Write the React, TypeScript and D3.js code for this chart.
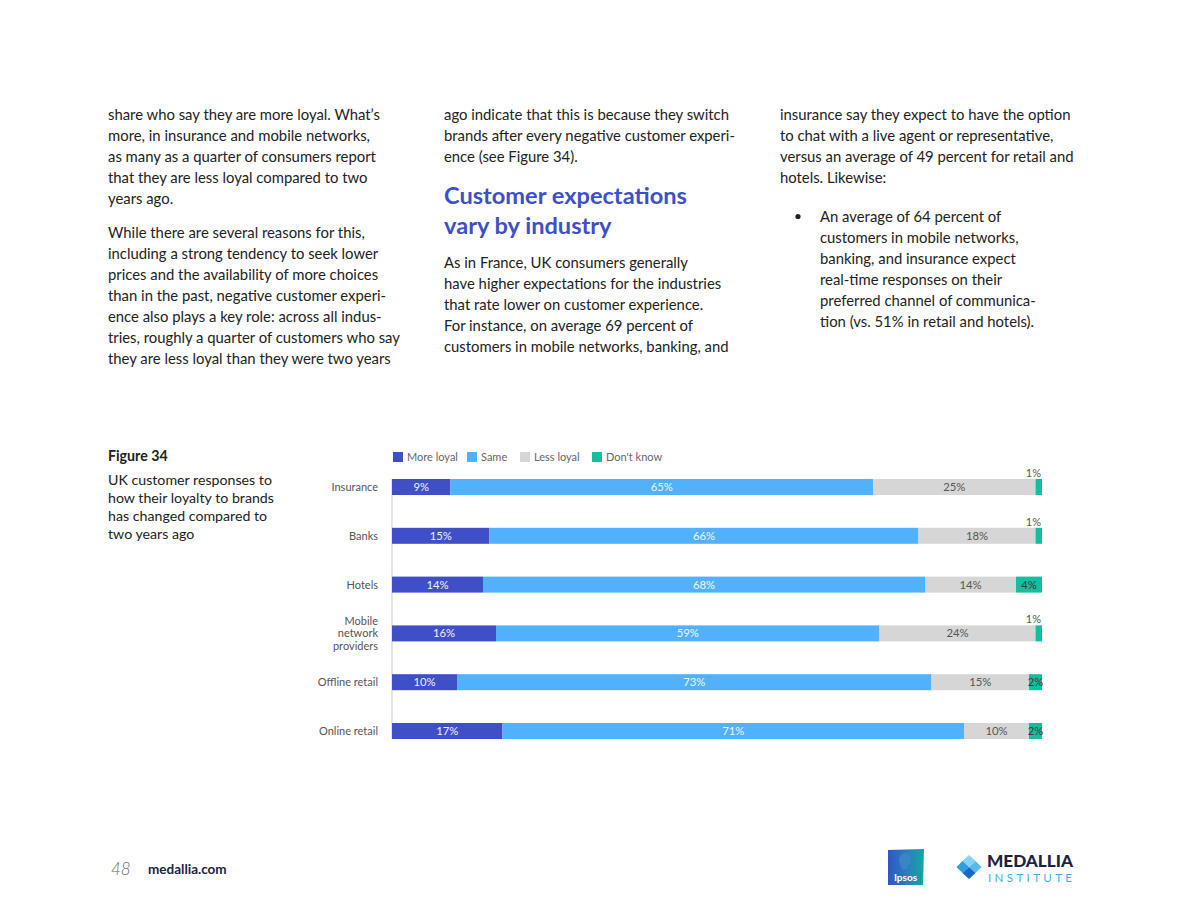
import React from "react";
import * as d3 from "d3";

const categories = ["Insurance", "Banks", "Hotels", "Mobile network providers", "Offline retail", "Online retail"];
const categoryLines: Record<string, string[]> = {
  "Mobile network providers": ["Mobile", "network", "providers"],
};
const seriesNames = ["More loyal", "Same", "Less loyal", "Don't know"];
const moreLoyal = [9, 15, 14, 16, 10, 17];
const same = [65, 66, 68, 59, 73, 71];
const lessLoyal = [25, 18, 14, 24, 15, 10];
const dontKnow = [1, 1, 4, 1, 2, 2];
const seriesColors = ["#3F4FC8", "#52B1FC", "#D6D6D6", "#12BF9E"];
const labelColors = ["#eef2ff", "#eef6ff", "#555555", "#3a3a3a"];

const col1a = [
  "share who say they are more loyal. What\u2019s",
  "more, in insurance and mobile networks,",
  "as many as a quarter of consumers report",
  "that they are less loyal compared to two",
  "years ago.",
];
const col1b = [
  "While there are several reasons for this,",
  "including a strong tendency to seek lower",
  "prices and the availability of more choices",
  "than in the past, negative customer experi-",
  "ence also plays a key role: across all indus-",
  "tries, roughly a quarter of customers who say",
  "they are less loyal than they were two years",
];
const col2a = [
  "ago indicate that this is because they switch",
  "brands after every negative customer experi-",
  "ence (see Figure 34).",
];
const heading = ["Customer expectations", "vary by industry"];
const col2b = [
  "As in France, UK consumers generally",
  "have higher expectations for the industries",
  "that rate lower on customer experience.",
  "For instance, on average 69 percent of",
  "customers in mobile networks, banking, and",
];
const col3a = [
  "insurance say they expect to have the option",
  "to chat with a live agent or representative,",
  "versus an average of 49 percent for retail and",
  "hotels. Likewise:",
];
const col3b = [
  "An average of 64 percent of",
  "customers in mobile networks,",
  "banking, and insurance expect",
  "real-time responses on their",
  "preferred channel of communica-",
  "tion (vs. 51% in retail and hotels).",
];
const figTitle = "Figure 34";
const figCaption = ["UK customer responses to", "how their loyalty to brands", "has changed compared to", "two years ago"];

const FONT = "Lato, 'Open Sans', sans-serif";
const BODY = "#222222";

function Lines({ lines, x, y, lh, size = 14.85, color = BODY, weight = 400 }: any) {
  return (
    <g>
      {lines.map((t: string, i: number) => (
        <text key={i} x={x} y={y + i * lh} fontSize={size} fill={color} fontWeight={weight} fontFamily={FONT}>
          {t}
        </text>
      ))}
    </g>
  );
}

export default function App() {
  const x = d3.scaleLinear().domain([0, 100]).range([392, 1042]);
  const y = d3.scalePoint<string>().domain(categories).range([487, 731]);
  const barH = 16;
  const rows = categories.map((c, i) => ({
    cat: c,
    s0: moreLoyal[i],
    s1: same[i],
    s2: lessLoyal[i],
    s3: dontKnow[i],
  }));
  const stack = d3.stack<any>().keys(["s0", "s1", "s2", "s3"]);
  const layers = stack(rows);

  const legendX = [393, 467, 520, 592];

  return (
    <svg width={1184} height={915} style={{ position: "absolute", left: 0, top: 0, background: "#fff" }} fontFamily={FONT}>
      <rect x={0} y={0} width={1184} height={915} fill="#fff" />
      {/* text columns */}
      <Lines lines={col1a} x={108} y={120} lh={21} />
      <Lines lines={col1b} x={108} y={238} lh={21} />
      <Lines lines={col2a} x={444} y={120} lh={21} />
      <Lines lines={heading} x={444} y={204} lh={30} size={23.6} color="#3D4FC9" weight={700} />
      <Lines lines={col2b} x={444} y={268} lh={21} />
      <Lines lines={col3a} x={780} y={120} lh={21} />
      <circle cx={798} cy={216.5} r={2.6} fill={BODY} />
      <Lines lines={col3b} x={820} y={222} lh={21} />

      {/* figure caption */}
      <text x={108} y={461} fontSize={14.2} fontWeight={700} fill={BODY} fontFamily={FONT}>{figTitle}</text>
      <Lines lines={figCaption} x={108} y={485} lh={18} size={14.2} />

      {/* legend */}
      {seriesNames.map((n, i) => (
        <g key={n}>
          <rect x={legendX[i]} y={452} width={10} height={10} fill={seriesColors[i]} />
          <text x={legendX[i] + 14} y={461} fontSize={11} fill="#666" fontFamily={FONT}>{n}</text>
        </g>
      ))}

      {/* axis line */}
      <line x1={x(0)} x2={x(0)} y1={(y(categories[0]) as number) - barH / 2} y2={(y(categories[categories.length - 1]) as number) + barH / 2} stroke="#cfcfcf" strokeWidth={1} />

      {/* category labels */}
      {categories.map((c) => {
        const lines = categoryLines[c] || [c];
        const cy = y(c) as number;
        return (
          <g key={c}>
            {lines.map((t, j) => (
              <text key={j} x={378} y={cy + 4 + (j - (lines.length - 1) / 2) * 12.5} fontSize={11} fill="#555" textAnchor="end" fontFamily={FONT}>
                {t}
              </text>
            ))}
          </g>
        );
      })}

      {/* bars */}
      {layers.map((layer, li) => (
        <g key={li}>
          {layer.map((d: any, j: number) => {
            const cy = y(d.data.cat) as number;
            const x0 = x(d[0]);
            const x1 = x(d[1]);
            const v = d[1] - d[0];
            const small = v <= 1;
            return (
              <g key={j}>
                <rect x={x0} y={cy - barH / 2} width={Math.max(0, x1 - x0)} height={barH} fill={seriesColors[li]} />
                {small ? (
                  <text x={x1 - 1} y={cy - 10} fontSize={11} fill="#555" textAnchor="end" fontFamily={FONT}>{v}%</text>
                ) : (
                  <text x={(x0 + x1) / 2} y={cy + 4} fontSize={11.3} fill={labelColors[li]} textAnchor="middle" fontFamily={FONT}>{v}%</text>
                )}
              </g>
            );
          })}
        </g>
      ))}

      {/* footer */}
      <text x={111} y={875} fontSize={17} fontStyle="italic" fill="#6b6b6b" fontFamily={FONT} fontWeight={300}>48</text>
      <text x={148} y={874} fontSize={13.5} fontWeight={700} fill="#1b2445" fontFamily={FONT}>medallia.com</text>

      {/* Ipsos logo */}
      <defs>
        <linearGradient id="ipsosGrad" x1="0" x2="1" y1="0" y2="0">
          <stop offset="0" stopColor="#2f56c4" />
          <stop offset="0.55" stopColor="#2a7fc0" />
          <stop offset="1" stopColor="#13a89e" />
        </linearGradient>
      </defs>
      <path d="M888,850 L924,849 L923,885 L888,885 Z" fill="url(#ipsosGrad)" />
      <path d="M901,866 C898,862 898,854 905,853 C912,853 912,862 908,866 L907,869 L902,869 Z" fill="#3a86c8" opacity={0.9} />
      <text x={905.5} y={881} fontSize={10} fontWeight={700} fill="#fff" textAnchor="middle" fontFamily={FONT}>Ipsos</text>

      {/* Medallia Institute logo */}
      <path d="M969,855 L975.5,861 L969,867 L962.5,861 Z" fill="#86d3f6" />
      <path d="M962.5,861 L969,867 L962.5,873 L956.5,867 Z" fill="#2c9fe3" />
      <path d="M975.5,861 L981.5,867 L975.5,873 L969,867 Z" fill="#55baf0" />
      <path d="M969,867 L975.5,873 L969,879 L962.5,873 Z" fill="#1769c4" />
      <text x={987} y={867} fontSize={16.5} fontWeight={900} fill="#1b2445" fontFamily={FONT} textLength={86} lengthAdjust="spacingAndGlyphs">MEDALLIA</text>
      <text x={988} y={881.5} fontSize={11.5} fontWeight={400} fill="#3bb0e8" fontFamily={FONT} textLength={84} lengthAdjust="spacing">INSTITUTE</text>
    </svg>
  );
}
